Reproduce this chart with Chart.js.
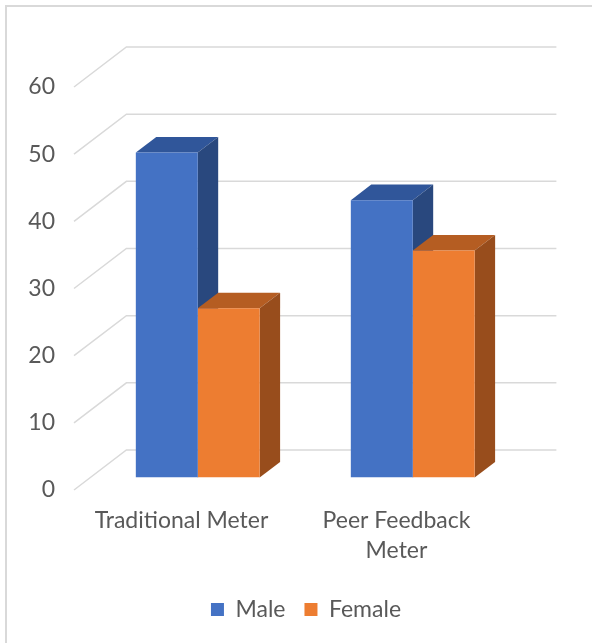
<!DOCTYPE html>
<html>
<head>
<meta charset="utf-8">
<script src="https://cdn.jsdelivr.net/npm/chart.js@4.4.1/dist/chart.umd.min.js"></script>
<style>
html, body { margin: 0; padding: 0; background: #fff; overflow: hidden; }
#wrap { position: relative; width: 592px; height: 643px; overflow: hidden; }
#frame { position: absolute; left: 5px; top: 5px; width: 700px; height: 700px; border: 2px solid #d9d9d9; }
canvas { position: absolute; left: 0; top: 0; }
</style>
</head>
<body>
<div id="wrap"><div id="frame"></div><canvas id="chart" width="592" height="643"></canvas></div>
<script>
const categories = ['Traditional Meter', ['Peer Feedback', 'Meter']];
const maleValues = [48.4, 41.3];
const femaleValues = [25.2, 33.8];
const yTicks = [0, 10, 20, 30, 40, 50, 60];

// fake 3d: offset of the back wall from the front plane
const depthX = 52.4, depthY = -40;
const barFront = 0.31, barDepth = 0.39; // bars sit in the middle of the floor
const shades = [
    { top: '#30569a', side: '#29487e' },
    { top: '#b55d22', side: '#984d1c' }
];

function poly(ctx, pts, color) {
    ctx.fillStyle = color;
    ctx.beginPath();
    ctx.moveTo(pts[0][0], pts[0][1]);
    for (let k = 1; k < pts.length; k++) ctx.lineTo(pts[k][0], pts[k][1]);
    ctx.closePath();
    ctx.fill();
}

const walls3d = {
    id: 'walls3d',
    beforeDatasetsDraw(chart) {
        const { ctx, chartArea, scales: { y } } = chart;
        ctx.save();
        ctx.strokeStyle = '#d9d9d9';
        ctx.lineWidth = 1.5;
        yTicks.forEach(v => {
            const py = y.getPixelForValue(v);
            ctx.beginPath();
            ctx.moveTo(chartArea.left, py);
            ctx.lineTo(chartArea.left + depthX, py + depthY);
            ctx.lineTo(chartArea.right + depthX, py + depthY);
            ctx.stroke();
        });

        // top and side faces, left to right so the next bar covers the previous side
        const ox = barFront * depthX, oy = barFront * depthY;
        const dx = barDepth * depthX, dy = barDepth * depthY;
        const metas = chart.getSortedVisibleDatasetMetas();
        categories.forEach((c, i) => {
            metas.forEach(meta => {
                const p = meta.data[i].getProps(['x', 'y', 'base', 'width'], true);
                const l = p.x - p.width / 2 + ox, r = p.x + p.width / 2 + ox;
                const t = p.y + oy, b = p.base + oy;
                const s = shades[meta.index];
                poly(ctx, [[l, t], [r, t], [r + dx, t + dy], [l + dx, t + dy]], s.top);
                poly(ctx, [[r, t], [r + dx, t + dy], [r + dx, b + dy], [r, b]], s.side);
            });
        });
        ctx.restore();
    },
    // front faces are drawn by chart.js, pushed back into the floor
    beforeDatasetDraw(chart) {
        chart.ctx.save();
        chart.ctx.translate(barFront * depthX, barFront * depthY);
    },
    afterDatasetDraw(chart) {
        chart.ctx.restore();
    }
};

const font = { family: 'Lato', size: 23 };

new Chart(document.getElementById('chart'), {
    type: 'bar',
    data: {
        labels: categories,
        datasets: [
            { label: 'Male', data: maleValues, backgroundColor: '#4472c4', borderWidth: 0 },
            { label: 'Female', data: femaleValues, backgroundColor: '#ed7d31', borderWidth: 0 }
        ]
    },
    options: {
        responsive: false,
        animation: false,
        devicePixelRatio: 1,
        categoryPercentage: 0.576,
        barPercentage: 1,
        layout: { padding: { left: 20, right: 0, top: 87, bottom: 12 } },
        scales: {
            x: {
                grid: { display: false, drawTicks: false },
                border: { display: false },
                ticks: { color: '#595959', font: { ...font, lineHeight: 1.3 }, padding: 16, maxRotation: 0 },
                afterFit(scale) { scale.height = 89; }
            },
            y: {
                min: 0,
                max: 60,
                grid: { display: false, drawTicks: false },
                border: { display: false },
                afterBuildTicks(scale) { scale.ticks = yTicks.map(v => ({ value: v })); },
                ticks: { color: '#595959', font, padding: 19 },
                afterFit(scale) { scale.width = 54; }
            },
            // empty right axis, room for the depth of the back wall
            y2: {
                position: 'right',
                grid: { display: false, drawTicks: false },
                border: { display: false },
                ticks: { display: false },
                afterFit(scale) { scale.width = 88; }
            }
        },
        plugins: {
            legend: {
                position: 'bottom',
                labels: { color: '#595959', font, boxWidth: 13, boxHeight: 13, padding: 19 }
            },
            tooltip: { enabled: false }
        }
    },
    plugins: [walls3d]
});
</script>
</body>
</html>
